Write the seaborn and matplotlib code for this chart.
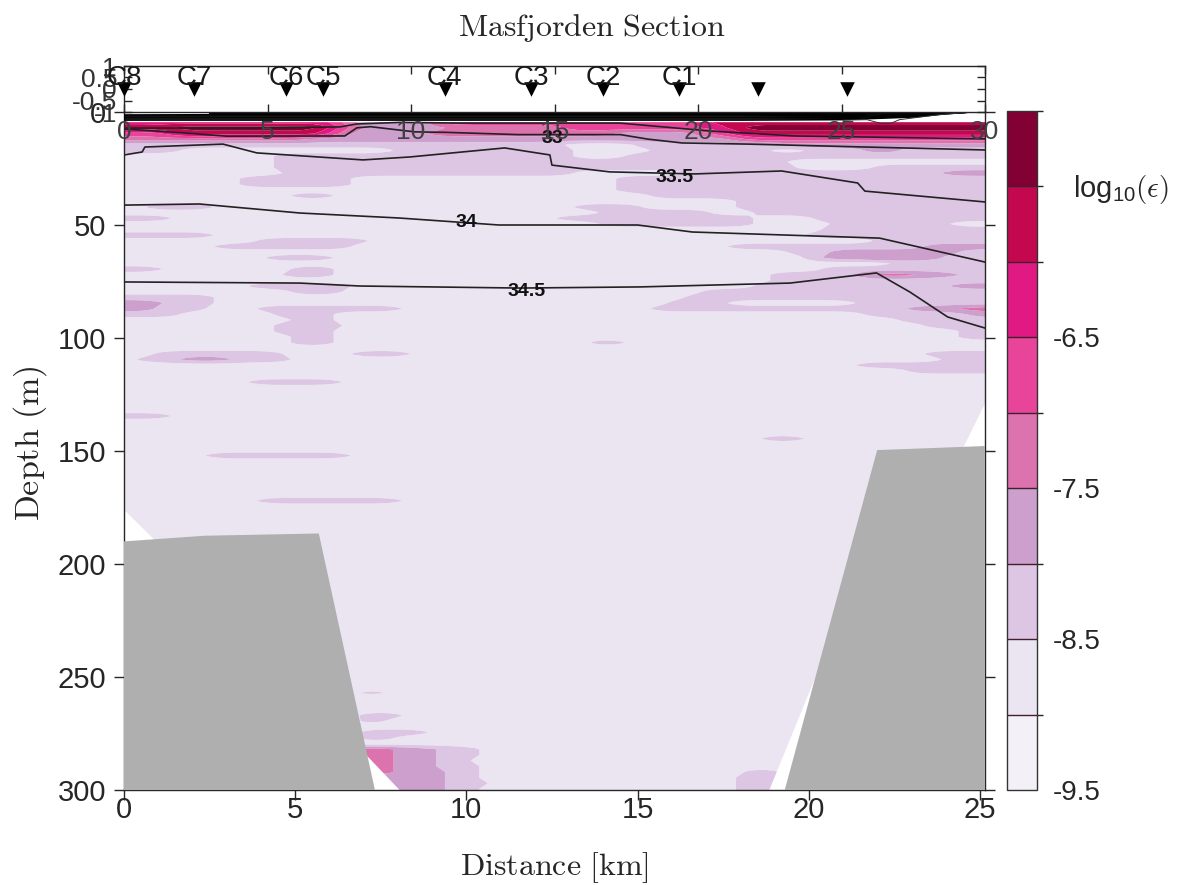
import numpy as np
import matplotlib
matplotlib.use('Agg')
import matplotlib.pyplot as plt
from matplotlib.colors import BoundaryNorm, ListedColormap
import seaborn as sns

# station markers, on the 0-30 scale of the top strip
STATION_POS = [0.0, 2.44, 5.64, 6.93, 11.18, 14.18, 16.69, 19.34, 22.09, 25.19]
STATION_NAMES = ['C8', 'C7', 'C6', 'C5', 'C4', 'C3', 'C2', 'C1', '', '']

LEVELS = [-9.5, -9, -8.5, -8, -7.5, -7, -6.5, -6, -5.5, -5]
BAND_COLORS = ['#f4f0f8', '#ebe5f2', '#dcc6e3', '#cc9fcc', '#dc72ae', '#e8459a',
               '#e01a82', '#c4084f', '#820033']

# seabed
BED_LEFT_X = [0, 2.35, 5.69, 7.33, 0]
BED_LEFT_D = [190, 187.5, 186.5, 300, 300]
BED_RIGHT_X = [19.3, 22.0, 25.15, 25.15]
BED_RIGHT_D = [300, 149.6, 147.8, 300]

# no data wedges next to the bed
GAP_X = [[0, 1.0, 0], [6.98, 8.05, 7.2], [20.2, 18.85, 19.4], [25.15, 24.5, 25.15]]
GAP_D = [[176, 191, 191], [283, 300, 300], [250, 300, 300], [129, 149, 149]]

# log10(eps) band per depth, (from km, to km, band), everything else is band 1
EPS_ROWS = {
    4.5: [(0, 6.5, 6), (6.5, 8, 3), (8, 9, 2), (9, 17, 5), (17, 25.2, 7)],
    7: [(0, 1.5, 7), (1.5, 6, 8), (6, 6.3, 6), (6.3, 7, 4), (7, 9.5, 3), (9.5, 13, 4),
        (13, 17, 5), (17, 18, 6), (18, 25.2, 8)],
    9.5: [(0, 1.5, 5), (1.5, 5.8, 7), (5.8, 6.5, 5), (6.5, 9, 3), (9, 14.5, 4),
          (14.5, 17, 3), (17, 18, 5), (18, 25.2, 7)],
    12: [(0, 5.5, 4), (5.5, 18, 3), (18, 25.2, 5)],
    14.5: [(0, 13, 2), (13, 15, 1), (15, 19, 2), (19, 25.2, 3)],
    17: [(0, 1.5, 2), (8, 13, 2), (15.5, 18.8, 2), (19.8, 25.2, 2), (21.6, 22.7, 3)],
    19.5: [(4.5, 13, 2), (14.6, 25.2, 2)],
    22: [(4.3, 19.4, 2)],
    24.5: [(4.3, 19.5, 2), (22, 25.2, 2)],
    27: [(4.6, 13, 2), (16.5, 25.2, 2), (24, 25.2, 3)],
    29.5: [(3.5, 6.6, 2), (14.4, 25.2, 2)],
    32: [(3.5, 6.6, 2), (14.4, 25.2, 2)],
    34.5: [(14.5, 25.2, 2)],
    37: [(4.8, 6.1, 2), (15.5, 25.2, 2)],
    39.5: [(17.8, 25.2, 2)],
    42: [(0.7, 2.6, 2), (13.2, 15.1, 2), (18, 25.2, 2)],
    44.5: [(14, 17, 2), (18.5, 25.2, 2)],
    47: [(0, 1.3, 2), (12.7, 18.4, 2), (20.2, 25.2, 2)],
    49.5: [(14, 18.4, 2), (20.6, 24, 2)],
    52: [(20.5, 25.2, 2)],
    54.5: [(0, 2.7, 2), (19.8, 25.2, 2)],
    57: [(4, 7, 2), (22, 25.2, 2)],
    59.5: [(2.7, 6.7, 2), (17.6, 23.5, 2), (23.5, 25.2, 3)],
    62: [(19.5, 20.7, 2), (20.7, 24.4, 3), (24.4, 25.2, 2)],
    64.5: [(4.2, 6.2, 2), (20.2, 21.8, 3), (21.8, 22.4, 4), (22.4, 23.8, 3), (23.8, 25.2, 2)],
    67: [(22.5, 25.2, 2)],
    69.5: [(0, 1.1, 2), (5, 6, 2), (20.3, 25.2, 2)],
    72: [(4.7, 6, 2), (19, 21.5, 2), (21.5, 24.4, 3), (22, 23, 4), (24.4, 25.2, 2)],
    74.5: [(18.8, 25.2, 2)],
    77: [(3.6, 6.5, 2), (18.5, 24.1, 2), (24.1, 25.2, 3)],
    79.5: [(4.8, 6.4, 2), (17, 25.2, 2)],
    82: [(0, 2.7, 2), (16.3, 25.2, 2)],
    84.5: [(0, 1.1, 3), (1.1, 2.7, 2), (16, 17.5, 2), (21.5, 25.2, 2)],
    87: [(0, 0.9, 3), (0.9, 2.4, 2), (3.9, 8, 2), (15.4, 23, 2), (23, 24.5, 3), (24.5, 25.2, 4)],
    89.5: [(0, 1.5, 2), (4.5, 6, 2), (21.7, 24.6, 2), (24.6, 25.2, 3)],
    92: [(5, 6, 2), (22.7, 25.2, 2)],
    94.5: [(4.5, 6.4, 2), (23.4, 25.2, 2)],
    97: [(4.5, 6.2, 2), (24.3, 25.2, 2)],
    99.5: [(4.8, 6, 2), (24.3, 25.2, 2)],
    102: [(4.9, 6, 2), (13.6, 14.7, 2)],
    107: [(0.8, 4.7, 2), (6.7, 8.4, 2), (23.4, 25.2, 2)],
    109.5: [(0.4, 4.9, 2), (1.6, 3.2, 3), (24, 25.2, 2)],
    112: [(21.5, 25.2, 2)],
    114.5: [(23, 25.2, 2)],
    119.5: [(3.6, 6.3, 2)],
    134.5: [(0, 1.4, 2)],
    144.5: [(18.7, 19.9, 2)],
    152: [(2.3, 6.6, 2)],
    172: [(3.8, 8, 2)],
    257: [(6.9, 7.5, 2)],
    267: [(6.8, 8, 2)],
    269.5: [(6.8, 7.5, 2)],
    274.5: [(6.9, 8.9, 2)],
    277: [(6.9, 7.8, 2)],
    282: [(6.5, 7.9, 4), (7.9, 9.2, 3), (9.2, 10.4, 2)],
    284.5: [(6.5, 7.9, 4), (7.9, 9.2, 3), (9.2, 10.3, 2)],
    287: [(6.5, 7.9, 4), (7.9, 9.2, 3), (9.2, 10.2, 2)],
    289.5: [(6.5, 8, 4), (8, 9.2, 3), (9.2, 10.3, 2)],
    292: [(6.5, 8, 4), (8, 9.3, 3), (9.3, 10.4, 2), (18.2, 19.2, 2)],
    294.5: [(6.5, 9.3, 3), (9.3, 10.3, 2), (18, 19, 2)],
    297: [(6.5, 9.3, 3), (9.3, 10.5, 2), (18, 19, 2)],
    299.5: [(6.5, 9.3, 3), (9.3, 10.3, 2), (17.8, 18.8, 2)],
}

# salinity contours
ISO_TOP_X = [0, 3.68, 6.31, 6.8, 8.06, 9.81, 14.48, 17.11, 19.59, 25.15]
ISO_TOP_D = [7.1, 7.1, 6.6, 5.3, 4.6, 4.9, 4.9, 8.4, 10.6, 11.9]
ISO_33_X = [0, 1.5, 3, 6.45, 6.8, 7.2, 8.5, 9.4, 11.5, 14.5, 15.3, 16.3, 18.2, 25.15]
ISO_33_D = [7.5, 9, 10.7, 10.6, 7, 6.5, 8.8, 9, 10, 10, 12, 13.7, 14.2, 16.8]
ISO_335_X = [0, 0.53, 0.61, 2.89, 3.88, 6.98, 8.35, 11.12, 12.44, 12.5, 14.19, 16.67, 19.21, 21.43, 21.64, 25.15]
ISO_335_D = [19, 17.7, 15.5, 14.2, 18.1, 21.2, 19.9, 15.9, 19, 23.5, 26.5, 27.4, 26.1, 31.4, 35, 39.8]
ISO_34_X = [0, 2.2, 5.14, 8.03, 10.95, 15.0, 16.6, 22.07, 25.15]
ISO_34_D = [41.2, 40.7, 44.7, 46.9, 50, 50, 53.1, 55.8, 66.4]
ISO_345_X = [0, 5.14, 6.89, 11.56, 15.07, 19.45, 21.98, 22.95, 24.06, 25.15]
ISO_345_D = [75.2, 75.7, 77, 77.9, 77.4, 75.7, 71.2, 79.6, 90.7, 95.6]

LABEL_TEXT = ['33', '33.5', '34', '34.5']
LABEL_X = [12.5, 16.09, 9.99, 11.77]
LABEL_D = [11.8, 28.8, 49.0, 79.3]

# tightly packed fresh surface contours
SURF_X = [0, 2.5, 6, 12, 18, 21, 23.1, 24, 24.6]
SURF_D = [
    [np.nan, 0.2, 0.2, 0.2, 0.2, 0.2, 0.1, 0.1, 0],
    [np.nan, 0.7, 0.7, 0.7, 0.7, 0.6, 0.4, 0.2, 0],
    [1.3, 1.2, 1.2, 1.2, 1.2, 1.1, 0.7, 0.3, 0.1],
    [1.7, 1.7, 1.7, 1.7, 1.7, 1.6, 1.0, 0.4, 0.1],
    [2.2, 2.2, 2.2, 2.2, 2.2, 2.1, 1.3, 0.5, 0.1],
    [2.6, 2.6, 2.6, 2.6, 2.6, 2.5, 1.6, 0.6, 0.1],
    [3.1, 3.1, 3.1, 3.1, 3.1, 3.0, 1.9, 0.7, 0.2],
    [3.6, 3.6, 3.6, 3.6, 3.6, 3.4, 2.2, 0.8, 0.2],
]
SURF_EDGE_X = [21, 21.7, 22.1, 22.4, 22.65, 23.8, 24.55, 25.15]
SURF_EDGE_D = [3.6, 3.4, 5, 5, 3.4, 1.2, 0.3, 0]

sns.set_theme(style='ticks')
plt.rcParams['font.family'] = ['Liberation Sans', 'DejaVu Sans']
plt.rcParams['mathtext.fontset'] = 'cm'
plt.rcParams['mathtext.default'] = 'regular'
plt.rcParams['axes.unicode_minus'] = False

DARK = '#262626'
W, H = 1184, 885

x_grid = np.r_[np.arange(0, 25.15, 0.25), 25.15]
d_grid = np.r_[np.arange(4.5, 300, 2.5), 300]
taper = np.array([1, 2, 3, 4, 3, 2, 1]) / 16
eps = np.zeros((len(d_grid), len(x_grid)))
for i, d in enumerate(d_grid):
    row = np.full(len(x_grid), 1.0)
    for start, end, band in EPS_ROWS.get(299.5 if d == 300 else float(d), []):
        row[(x_grid >= start) & (x_grid <= end)] = band
    # soften the ends of the lenses so they come to a point
    row = np.convolve(np.pad(row, 3, mode='edge'), taper, mode='valid')
    eps[i] = -9.25 + 0.5 * row

fig = plt.figure(figsize=(W / 100, H / 100), dpi=100)
ax = fig.add_axes([124 / W, (H - 790) / H, 861 / W, 678 / H])
top = fig.add_axes([124 / W, (H - 112) / H, 861 / W, 46 / H])
cax = fig.add_axes([1007 / W, (H - 790) / H, 30 / W, 679 / H])

cmap = ListedColormap(BAND_COLORS)
norm = BoundaryNorm(LEVELS, cmap.N)
cf = ax.contourf(x_grid, d_grid, eps, levels=LEVELS, cmap=cmap, norm=norm, antialiased=True)

for gx, gd in zip(GAP_X, GAP_D):
    ax.fill(gx, gd, color='white', lw=0, zorder=2)
ax.fill(BED_LEFT_X, BED_LEFT_D, color='#afafaf', lw=0, zorder=3)
ax.fill(BED_RIGHT_X, BED_RIGHT_D, color='#afafaf', lw=0, zorder=3)

for lx, ld in [(ISO_TOP_X, ISO_TOP_D), (ISO_33_X, ISO_33_D), (ISO_335_X, ISO_335_D),
               (ISO_34_X, ISO_34_D), (ISO_345_X, ISO_345_D)]:
    sns.lineplot(x=lx, y=ld, ax=ax, color='#222222', lw=1.2, sort=False, estimator=None,
                 errorbar=None, zorder=4)
for depths in SURF_D:
    ax.plot(SURF_X, depths, color='black', lw=1.1, zorder=4)
ax.plot(SURF_EDGE_X, SURF_EDGE_D, color='#333333', lw=0.7, zorder=4)

for txt, lx, ld in zip(LABEL_TEXT, LABEL_X, LABEL_D):
    ax.text(lx, ld, txt, fontsize=14, fontweight='bold', color='#111111',
            ha='center', va='center', zorder=5)

ax.set_xlim(0, 25.15)
ax.set_ylim(300, 0)
ax.set_xticks([0, 5, 10, 15, 20, 25])
ax.set_yticks([0, 50, 100, 150, 200, 250, 300])
ax.tick_params(axis='both', direction='out', length=7, width=1, color=DARK, labelcolor=DARK,
               labelsize=21, left=True, right=True, pad=6)
ax.tick_params(axis='x', pad=-3)
for s in ax.spines.values():
    s.set_visible(True)
    s.set_color(DARK)
    s.set_linewidth(1)
ax.spines['top'].set_visible(False)
ax.set_xlabel(r'$\mathrm{Distance\ [km]}$', fontsize=23, color=DARK, labelpad=19)
ax.set_ylabel(r'$\mathrm{Depth\ (m)}$', fontsize=24.5, color=DARK, labelpad=6, y=0.512)

# top strip with the stations
sns.scatterplot(x=STATION_POS, y=[0] * len(STATION_POS), ax=top, marker='v', s=110,
                color='black', linewidth=0, clip_on=False, zorder=5)
for name, pos in zip(STATION_NAMES, STATION_POS):
    if name:
        top.text(pos, 0.48, name, fontsize=20, color='#1a1a1a', ha='center', va='center', zorder=6)
top.set_xlim(0, 30)
top.set_ylim(-1, 1)
top.set_xticks([0, 5, 10, 15, 20, 25, 30])
top.set_yticks([-1, -0.5, 0, 0.5, 1])
top.set_yticklabels(['-1', '-0.5', '0', '0.5', '1'])
top.tick_params(axis='both', direction='in', length=6, width=1, color=DARK, labelsize=19,
                right=True, top=True, pad=5)
top.tick_params(axis='x', labelcolor='#404040', pad=6)
top.tick_params(axis='y', labelcolor='#333333')
top.patch.set_alpha(0)
for s in top.spines.values():
    s.set_visible(True)
    s.set_color(DARK)
    s.set_linewidth(1)

cb = fig.colorbar(cf, cax=cax, ticks=[-9.5, -8.5, -7.5, -6.5], drawedges=True)
cb.ax.set_yticklabels(['-9.5', '-8.5', '-7.5', '-6.5'])
cb.ax.tick_params(length=0, labelsize=20, labelcolor=DARK, pad=11)
cb.outline.set_edgecolor('#333333')
cb.outline.set_linewidth(1)
cb.dividers.set_color('#40202e')
cb.dividers.set_linewidth(1)

fig.text(1073 / W, 1 - 190 / H, r'log$_{10}\mathrm{(}\mathit{\epsilon}\mathrm{)}$', fontsize=21,
         color=DARK, va='center')
fig.text(592 / W, 1 - 28 / H, r'$\mathrm{Masfjorden\ Section}$', fontsize=23, color=DARK,
         ha='center', va='center')

fig.savefig('out.png', dpi=100)
